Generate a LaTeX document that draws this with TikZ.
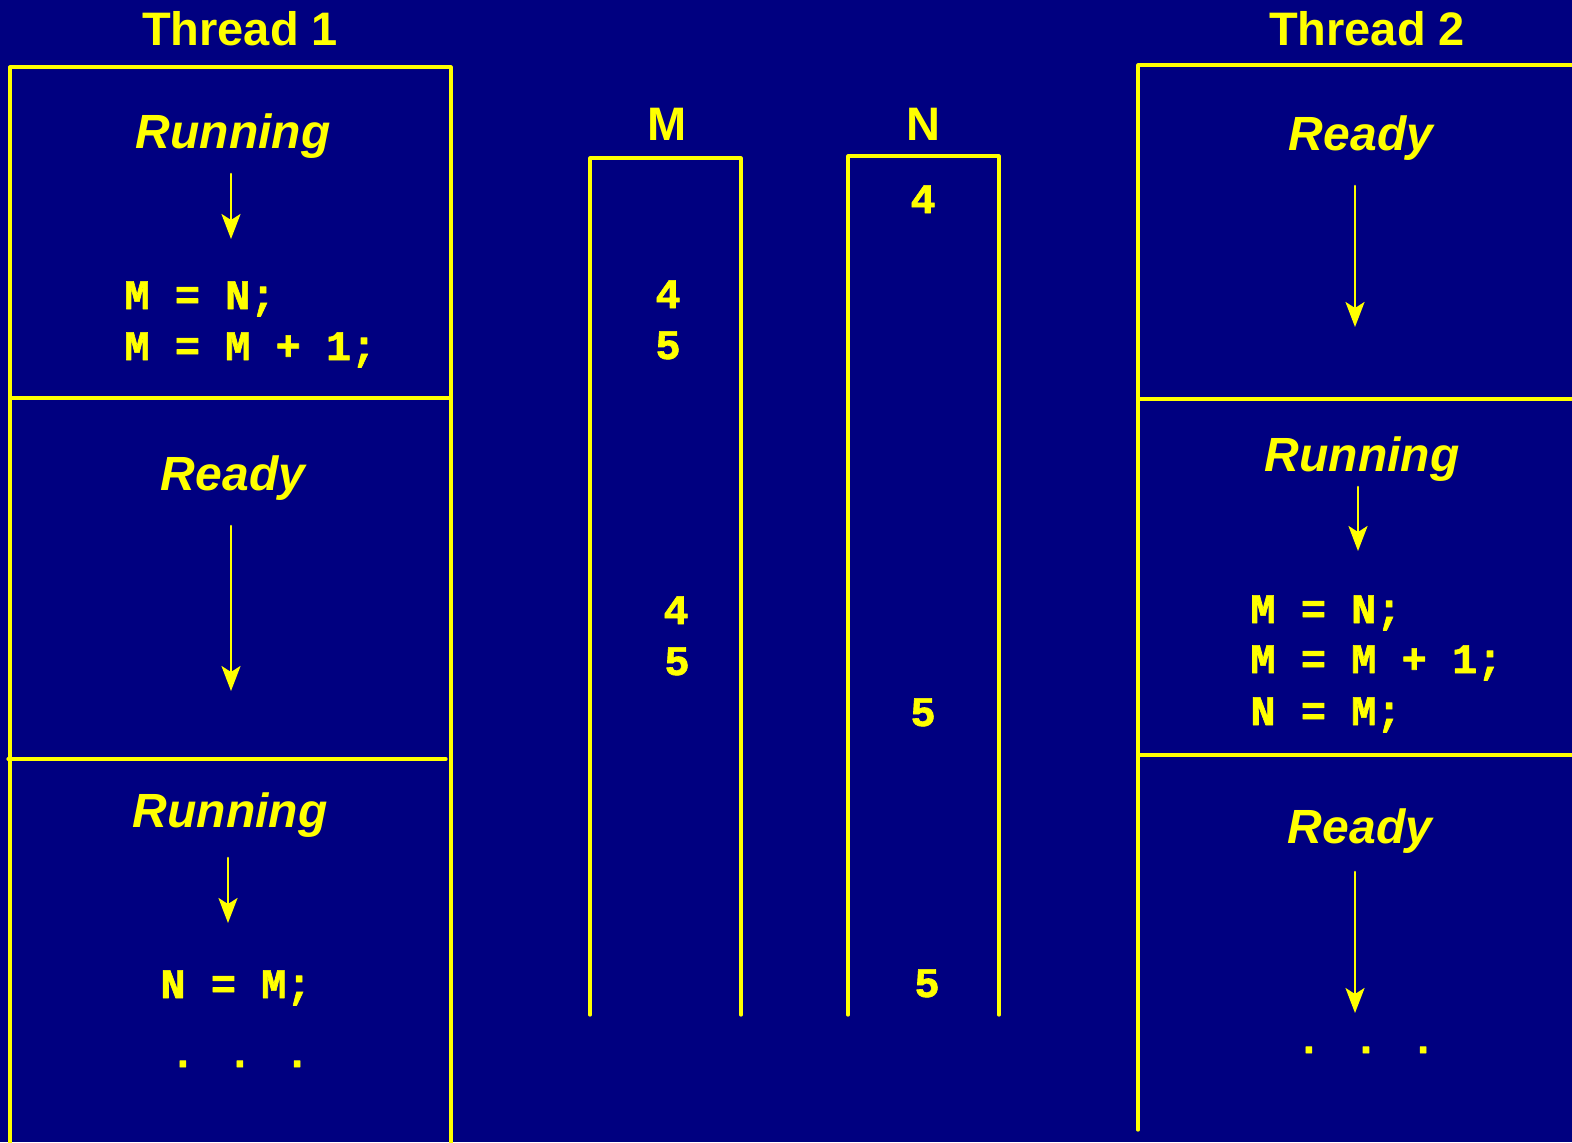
\documentclass[tikz,border=0pt]{standalone}
\usepackage{fontspec}
\setmainfont{Liberation Sans}[BoldFont={Liberation Sans Bold},BoldItalicFont={Liberation Sans Bold Italic}]
\newfontfamily\codefont{Liberation Mono Bold}[FakeBold=1.5]
\usetikzlibrary{arrows.meta}

\definecolor{slidebg}{RGB}{0,0,128}
\definecolor{slidefg}{RGB}{255,255,0}

\newcommand\threedots{.\hspace{16pt}.\hspace{16pt}.}

\begin{document}
\begin{tikzpicture}[x=0.5pt,y=-0.5pt,line cap=round,line join=round,
    title/.style={inner sep=0pt,anchor=base,font=\fontsize{23.5}{28}\selectfont\bfseries},
    state/.style={inner sep=0pt,anchor=base,font=\fontsize{24}{28}\selectfont\bfseries\itshape},
    code/.style={inner sep=0pt,anchor=base west,font=\fontsize{21}{25}\selectfont\codefont},
    val/.style={inner sep=0pt,anchor=base,font=\fontsize{21}{25}\selectfont\codefont},
    dots/.style={inner sep=0pt,anchor=base,font=\fontsize{21}{25}\selectfont\codefont},
    flow/.style={line width=1.3pt,-{Stealth[length=12.5pt,width=9.5pt,inset=3pt]}}]
  \fill[slidebg] (0,0) rectangle (1572,1142);
  \clip (0,0) rectangle (1572,1142);
  \begin{scope}[draw=slidefg,text=slidefg,slidefg]
  % thread 1
  \node[title] (t1) at (240,45) {Thread 1};
  \draw[line width=1.6pt] (10,1150)--(10,67)--(451,67)--(451,1150);
  \draw[line width=1.6pt] (10,398)--(451,398);
  \draw[line width=1.6pt] (8,759)--(446,759);
  \node[state] (run1) at (233,148) {Running};
  \coordinate (a1s) at (231,174);
  \coordinate (a1e) at (231,239);
  \draw[flow] (a1s)--(a1e);
  \node[code] (c1) at (124,309) {M = N;};
  \node[code] (c2) at (124,360) {M = M + 1;};
  \node[state] (rdy1) at (233,490) {Ready};
  \coordinate (a2s) at (231,526);
  \coordinate (a2e) at (231,691);
  \draw[flow] (a2s)--(a2e);
  \node[state] (run2) at (230,827) {Running};
  \coordinate (a3s) at (228,858);
  \coordinate (a3e) at (228,923);
  \draw[flow] (a3s)--(a3e);
  \node[code] (c3) at (160,998) {N = M;};
  \node[dots] (d1) at (240,1067) {\threedots};
  % shared variables
  \node[title] (lm) at (667,140) {M};
  \node[title] (ln) at (923,140) {N};
  \draw[line width=1.6pt] (590,1015)--(590,158)--(741,158)--(741,1015);
  \draw[line width=1.6pt] (848,1015)--(848,156)--(999,156)--(999,1015);
  \node[val] (m1) at (668,308) {4};
  \node[val] (m2) at (668,359) {5};
  \node[val] (m3) at (676,624) {4};
  \node[val] (m4) at (677,675) {5};
  \node[val] (n1) at (923,213) {4};
  \node[val] (n2) at (923,726) {5};
  \node[val] (n3) at (927,997) {5};
  % thread 2
  \node[title] (t2) at (1367,45) {Thread 2};
  \draw[line width=1.6pt] (1138,1130)--(1138,65)--(1580,65);
  \draw[line width=1.6pt] (1138,399)--(1580,399);
  \draw[line width=1.6pt] (1138,755)--(1580,755);
  \node[state] (rdy2) at (1361,150) {Ready};
  \coordinate (b1s) at (1355,186);
  \coordinate (b1e) at (1355,327);
  \draw[flow] (b1s)--(b1e);
  \node[state] (run3) at (1362,471) {Running};
  \coordinate (b2s) at (1358,487);
  \coordinate (b2e) at (1358,551);
  \draw[flow] (b2s)--(b2e);
  \node[code] (c4) at (1250,623) {M = N;};
  \node[code] (c5) at (1250,673) {M = M + 1;};
  \node[code] (c6) at (1250,725) {N = M;};
  \node[state] (rdy3) at (1360,843) {Ready};
  \coordinate (b3s) at (1355,872);
  \coordinate (b3e) at (1355,1013);
  \draw[flow] (b3s)--(b3e);
  \node[dots] (d2) at (1366,1053) {\threedots};
  \end{scope}
\end{tikzpicture}
\end{document}
